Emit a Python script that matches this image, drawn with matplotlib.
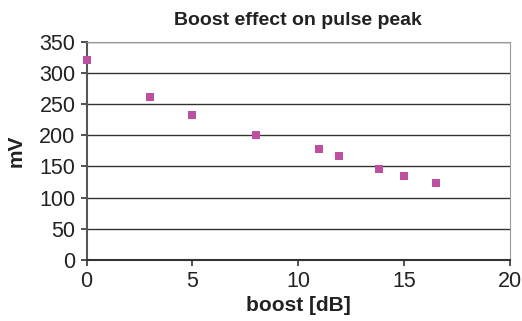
import matplotlib.pyplot as plt

plt.rcParams['font.family'] = ['Liberation Sans', 'DejaVu Sans']

# measured pulse peak vs. boost setting
boost_db = [0, 3, 5, 8, 11, 11.9, 13.8, 15, 16.5]
peak_mv = [320, 261, 233, 201, 178, 167, 146, 135, 123]

fig = plt.figure(figsize=(5.22, 3.21), dpi=100)
ax = fig.add_axes([0.166, 0.19, 0.811, 0.68])

ax.scatter(boost_db, peak_mv, marker='s', s=30, color='#BF4F9F', zorder=3,
           linewidths=0, clip_on=False)

ax.set_xlim(0, 20)
ax.set_ylim(0, 350)
ax.set_xticks([0, 5, 10, 15, 20])
ax.set_yticks(range(0, 351, 50))
ax.grid(axis='y', color='#333333', linewidth=1.0)
ax.set_axisbelow(True)

ax.spines['left'].set_color('#555555')
ax.spines['left'].set_linewidth(1.5)
ax.spines['bottom'].set_color('#333333')
ax.spines['bottom'].set_linewidth(1.5)
ax.spines['top'].set_color('#999999')
ax.spines['right'].set_color('#999999')
ax.tick_params(axis='both', labelsize=15.5, color='#333333', direction='out',
               length=4, width=1.2, pad=4, labelcolor='#222222')

ax.set_title('Boost effect on pulse peak', fontsize=14, fontweight='bold',
             color='#222222', pad=12)
ax.set_xlabel('boost [dB]', fontsize=15, fontweight='bold', color='#222222', labelpad=3)
ax.set_ylabel('mV', fontsize=15, fontweight='bold', color='#222222', labelpad=10)

fig.savefig('out.png', dpi=100)
